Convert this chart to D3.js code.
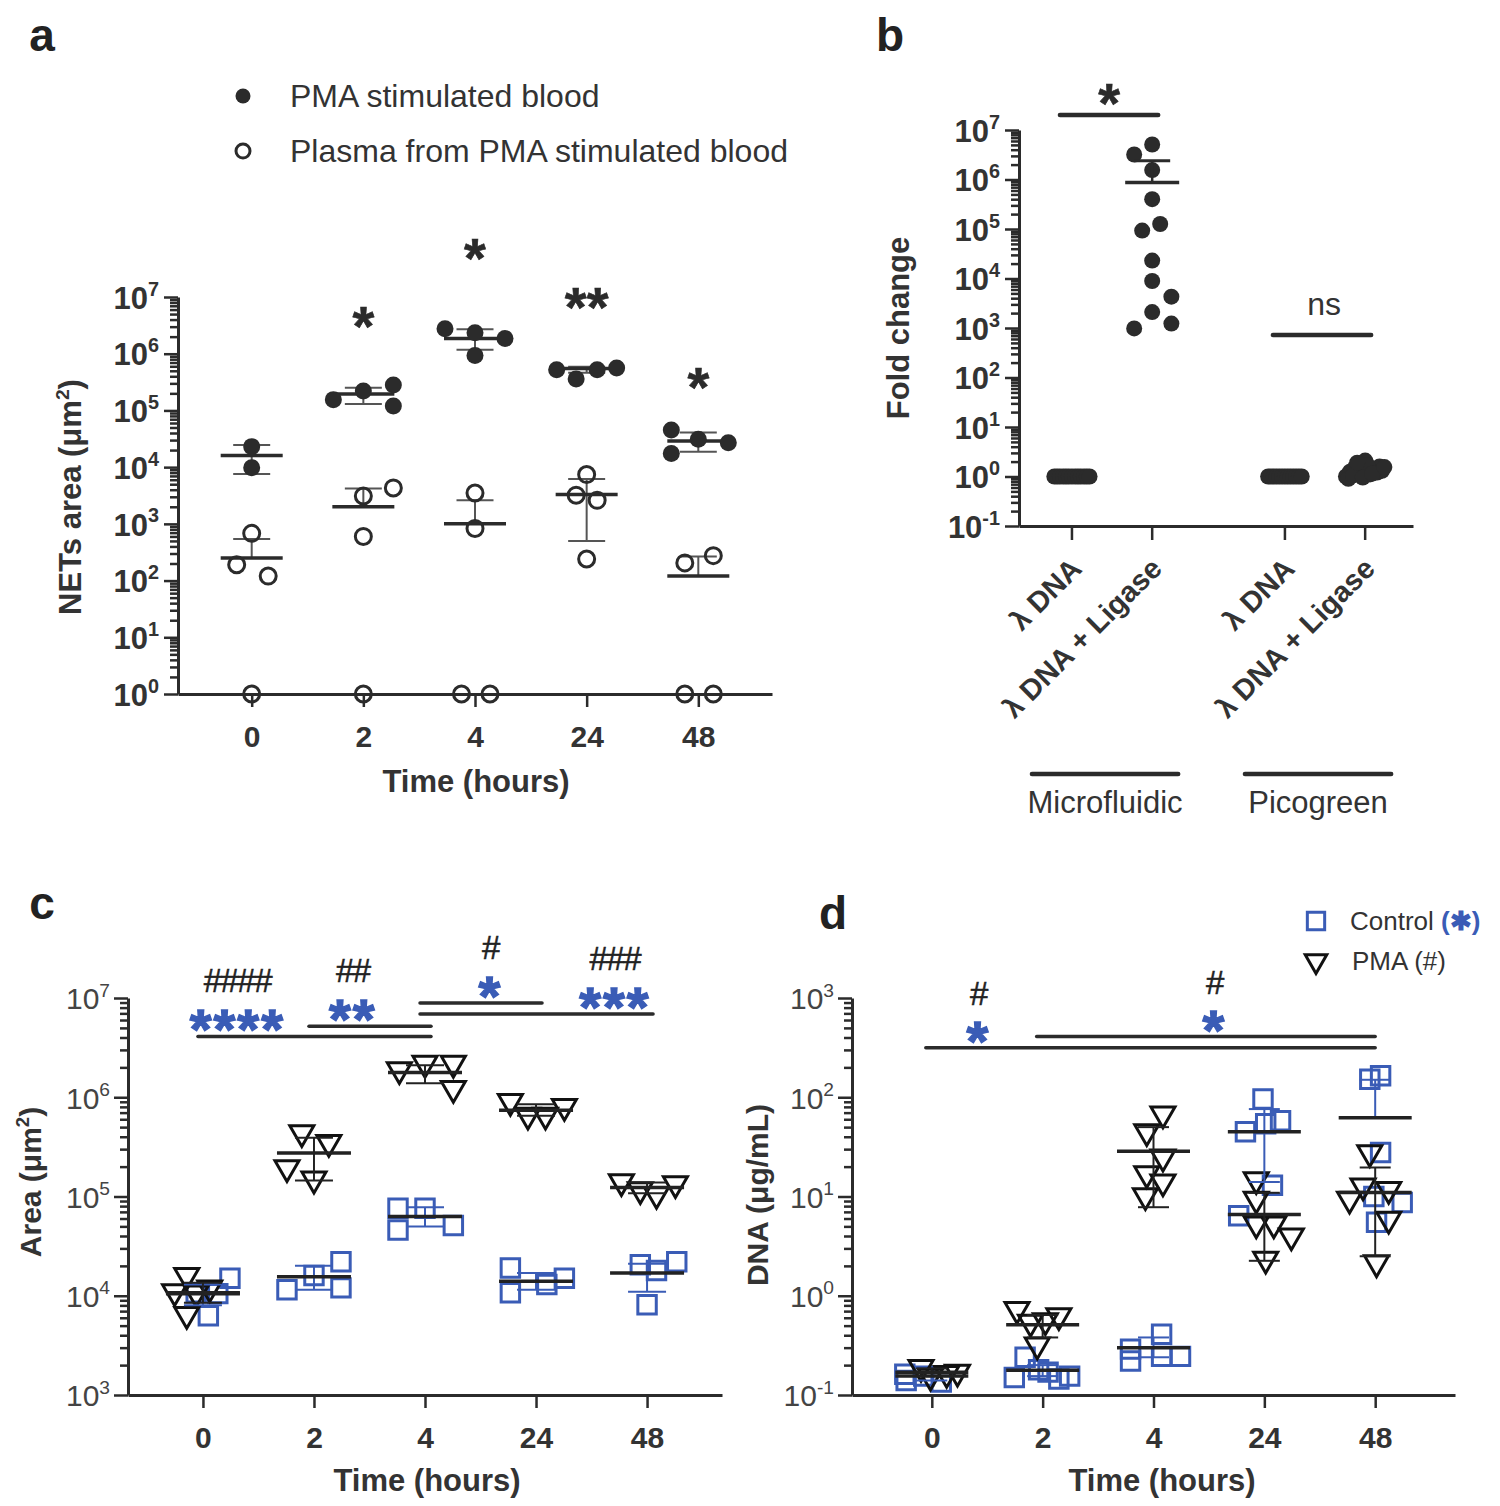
<!DOCTYPE html>
<html><head><meta charset="utf-8">
<script src="https://cdn.jsdelivr.net/npm/d3@7"></script>
<style>
body{margin:0;background:#fff}
svg{font-family:"Liberation Sans",Arial,sans-serif}
</style></head><body>
<svg id="fig" width="1500" height="1506"></svg>
<script>
// ---------------- DATA ----------------
const timeCats = ["0","2","4","24","48"];

// Panel a : NETs area (µm²)
const aPMAVals   = [[2.3e4,9.8e3],[1.55e5,2.2e5,2.8e5,1.2e5],[2.75e6,2.35e6,1.86e6,9.3e5],[5.2e5,3.6e5,5.2e5,5.6e5],[4.5e4,1.74e4,3.1e4,2.7e4]];
const aPMAJit    = [[0,0],[-1,0,1,1],[-1,0,1,0],[-1,-0.35,0.35,1],[-0.9,-0.9,0,1]];
const aPMAMean   = [1.6e4,1.95e5,1.86e6,5.5e5,2.9e4];
const aPMALow    = [7.6e3,1.3e5,1.17e6,4.6e5,1.86e4];
const aPMAHigh   = [2.45e4,2.5e5,2.7e6,5.9e5,4.1e4];
const aPlasmaVals= [[680,190,120,1],[3100,4300,600,1],[3500,830,1,1],[7400,3200,2600,240],[205,275,1,1]];
const aPlasmaJit = [[0,-0.5,0.55,0],[0,1,0,0],[0,0,-0.45,0.5],[0,-0.35,0.35,0],[-0.45,0.5,-0.45,0.5]];
const aPlasmaMean= [250,2000,1000,3300,120];
const aPlasmaLow = [null,null,null,500,null];
const aPlasmaHigh= [540,4200,2600,6200,265];
const aSigLabels = ["","*","*","**","*"];
const aSigLevel  = [null,5.5e6,8.9e7,1.2e7,4.6e5];
const aLegend    = ["PMA stimulated blood","Plasma from PMA stimulated blood"];

// Panel b : Fold change
const bGroups = ["Microfluidic","Picogreen"];
const bConds  = ["λ DNA","λ DNA + Ligase"];
const bMicroDNA     = [1,1,1,1,1,1,1,1,1,1,1,1,1];
const bMicroDNAJit  = [-2.2,-1.85,-1.5,-1.1,-0.75,-0.4,0,0.4,0.75,1.1,1.5,1.85,2.2];
const bMicroLig     = [3.2e6,5.1e6,1.55e6,4.0e5,9.3e4,1.26e5,2.3e4,8.9e3,4.3e3,2.1e3,980,1.23e3];
const bMicroLigJit  = [-2.25,0,0,0,-1.25,1,0,0,2.4,0,-2.25,2.4];
const bMicroLigMean = 8.7e5;
const bMicroLigSEM  = 2.4e6;
const bPicoDNA      = [1,1,1,1,1,1,1,1,1,1,1,1,1];
const bPicoDNAJit   = [-2.1,-1.75,-1.4,-1.05,-0.7,-0.35,0,0.35,0.7,1.05,1.4,1.75,2.1];
const bPicoLig      = [1.0,1.25,1.5,1.8,2.1,1.1,1.35,1.6,0.9,1.45,1.7,1.2,1.05,1.3,0.95,1.15,1.9,1.55];
const bPicoLigJit   = [-2.4,-1.9,-1.3,-0.6,0,0.6,1.2,1.8,-2.1,-0.9,0.3,1.5,-1.5,2.1,-0.3,0.9,-1.0,2.4];
const bSig = [{group:"Microfluidic",label:"*",level:2.0e7},{group:"Picogreen",label:"ns",level:7.2e2}];

// Panel c : Area (µm²), Control (squares) and PMA (triangles)
const cCtrlVals = [[1.5e4,1.05e4,6.3e3,1.07e4],[1.15e4,1.6e4,2.2e4,1.2e4],[7.6e4,4.6e4,7.6e4,5.1e4],[1.9e4,1.07e4,1.3e4,1.5e4],[2.05e4,1.8e4,2.2e4,8.1e3]];
const cCtrlJit  = [[1.0,0.55,0.2,-0.25],[-1,0,1,1],[-1,-1,0,1.05],[-0.95,-0.95,0.4,1.05],[-0.25,0.35,1.1,0]];
const cCtrlMean = [1.05e4,1.55e4,6.3e4,1.4e4,1.7e4];
const cCtrlLow  = [8.0e3,1.15e4,5.0e4,1.15e4,1.1e4];
const cCtrlHigh = [1.3e4,2.0e4,7.8e4,1.7e4,2.1e4];
const cPMAVals  = [[1.6e4,1.1e4,1.07e4,1.2e4,6.5e3],[4.4e5,3.5e5,1.95e5,1.5e5],[1.9e6,2.2e6,2.2e6,1.23e6],[9.1e5,6.6e5,6.6e5,8.1e5],[1.41e5,1.17e5,1.05e5,1.35e5]];
const cPMAJit   = [[-0.6,-1.05,-0.25,0.25,-0.6],[-0.45,0.55,-1.0,0],[-0.95,0,1.05,1.05],[-0.95,-0.3,0.35,1.05],[-0.95,-0.25,0.35,1.05]];
const cPMAMean  = [1.07e4,2.75e5,1.78e6,7.4e5,1.23e5];
const cPMALow   = [8.5e3,1.45e5,1.38e6,6.5e5,1.08e5];
const cPMAHigh  = [1.35e4,3.9e5,2.1e6,8.5e5,1.38e5];
const cBrackets = [{from:"0",to:"4",level:4.1e6,at:0.31,ctrl:"****",pma:"####"},
                   {from:"2",to:"4",level:5.2e6,at:1.35,ctrl:"**",pma:"##"},
                   {from:"4",to:"24",level:8.9e6,at:2.59,ctrl:"*",pma:"#"},
                   {from:"4",to:"48",level:6.9e6,at:3.71,ctrl:"***",pma:"###"}];

// Panel d : DNA (µg/mL)
const dCtrlVals = [[0.162,0.14,0.155,0.135],[0.15,0.24,0.18,0.17,0.145,0.155],[0.29,0.22,0.41,0.245,0.245],[96,58,45,54,13,6.4],[152,165,27.7,8.7,5.5,10]];
const dCtrlJit  = [[-1.0,-0.95,-0.3,0.35],[-1.05,-0.65,-0.15,0.2,0.6,1.0],[-0.85,-0.85,0.3,0.3,1.0],[-0.05,0.6,-0.7,0.05,0.3,-0.95],[-0.2,0.2,0.2,1.0,0.05,-0.05]];
const dCtrlMean = [0.155,0.178,0.30,45,62];
const dCtrlLow  = [0.14,0.155,0.24,14,null];
const dCtrlHigh = [0.17,0.20,0.38,76,150];
const dPMAVals  = [[0.19,0.155,0.165,0.17],[0.73,0.54,0.56,0.63,0.32],[68,45,25,17,14,10.2],[14.8,9.4,5.3,5.3,4.0,2.34],[27.7,9.4,12.8,11.8,5.9,2.15]];
const dPMAJit   = [[-0.4,-0.05,0.55,0.95],[-0.95,-0.45,0.1,0.6,-0.2],[0.35,-0.25,0.35,-0.25,0.35,-0.3],[-0.3,-0.3,-0.3,0.35,1.0,0.05],[-0.2,-0.95,-0.45,0.5,0.5,0.05]];
const dPMAMean  = [0.17,0.51,28.5,6.6,11];
const dPMALow   = [0.155,0.38,7.8,2.25,2.5];
const dPMAHigh  = [0.185,0.64,50,10.9,19.6];
const dBrackets = [{from:"0",to:"48",level:316,at:0.42,ctrl:"*",pma:"#"},
                   {from:"2",to:"48",level:410,at:2.55,ctrl:"*",pma:"#"}];
const dLegend = ["Control","PMA (#)"];

// ---------------- DRAWING ----------------
const INK = "#2b2b2b", TXT = "#333", BLUE = "#3a5cb6";
const svg = d3.select("#fig");

function logAxisY(g, y, x, o) {
  const [d0, d1] = y.domain();
  const e0 = Math.round(Math.log10(d0)), e1 = Math.round(Math.log10(d1));
  const majors = d3.range(e0, e1 + 1).map(e => Math.pow(10, e));
  const minors = [];
  for (let e = e0; e < e1; e++) for (let m = 2; m <= 9; m++) minors.push(m * Math.pow(10, e));
  const gm = g.append("g").attr("transform", `translate(${x},0)`)
    .call(d3.axisLeft(y).tickValues(minors).tickSize(8).tickSizeOuter(0).tickFormat(""));
  gm.select(".domain").remove();
  const gM = g.append("g").attr("transform", `translate(${x},0)`)
    .call(d3.axisLeft(y).tickValues(majors).tickSize(14).tickSizeOuter(0).tickFormat(""));
  [gm, gM].forEach(a => a.selectAll("line").attr("stroke", INK).attr("stroke-width", 2.5));
  gM.select(".domain").attr("stroke", INK).attr("stroke-width", 3);
  gM.selectAll(".tick").each(function(d) {
    const e = Math.round(Math.log10(d));
    const t = d3.select(this).append("text")
      .attr("x", -o.gap).attr("y", o.fs * 0.36).attr("text-anchor", "end")
      .attr("fill", o.color || TXT).attr("font-size", o.fs)
      .attr("font-weight", o.bold ? "bold" : "normal");
    t.append("tspan").text("10");
    t.append("tspan").attr("dy", -o.fs * 0.42).attr("font-size", o.fs * 0.64).text(e);
  });
}

function pointAxisX(g, x, y0, o) {
  const ax = g.append("g").attr("transform", `translate(0,${y0})`)
    .call(d3.axisBottom(x).tickSize(13).tickSizeOuter(0).tickFormat(""));
  ax.selectAll("line").attr("stroke", INK).attr("stroke-width", 2.5);
  ax.select(".domain").attr("stroke", INK).attr("stroke-width", 3);
  ax.selectAll(".tick").append("text").attr("y", 42 + o.fs * 0.36)
    .attr("text-anchor", "middle").attr("fill", TXT).attr("font-size", o.fs)
    .attr("font-weight", "bold").text(d => d);
}

function text(g, x, y, str, o) {
  return g.append("text").attr("x", x).attr("y", y)
    .attr("text-anchor", o.anchor || "middle").attr("fill", o.color || TXT)
    .attr("font-size", o.fs).attr("font-weight", o.bold ? "bold" : "normal")
    .text(str);
}
function yTitle(g, cx, cy, str, fs, sup) {
  const t = g.append("text").attr("transform", `translate(${cx},${cy}) rotate(-90)`)
    .attr("text-anchor", "middle").attr("dy", "0.36em").attr("fill", TXT)
    .attr("font-size", fs).attr("font-weight", "bold");
  t.append("tspan").text(str[0]);
  if (sup) {
    t.append("tspan").attr("dy", -fs * 0.38).attr("font-size", fs * 0.62).text(sup);
    t.append("tspan").attr("dy", fs * 0.38).text(str[1]);
  }
}
// asterisk centred on cy
function stars(g, cx, cy, str, fs, color) {
  return g.append("text").attr("x", cx).attr("y", cy + fs * 0.6)
    .attr("text-anchor", "middle").attr("fill", color).attr("stroke", color)
    .attr("stroke-width", color === BLUE ? 1.4 : 0.6).attr("letter-spacing", color === BLUE ? 2 : 0)
    .attr("font-size", fs).attr("font-weight", "bold").text(str);
}
function hashes(g, cx, cy, str, fs) {
  return g.append("text").attr("x", cx).attr("y", cy + fs * 0.35)
    .attr("text-anchor", "middle").attr("fill", "#222").attr("stroke", "#222").attr("stroke-width", 0.5)
    .attr("letter-spacing", -1.5)
    .attr("font-size", fs).text(str);
}

const triPath = d3.symbol(d3.symbolTriangle, 250)();
const sqPath = d3.symbol(d3.symbolSquare, 340)();

function drawMarks(g, x, y, vals, jit, unit, shape) {
  vals.forEach((arr, i) => {
    const cx = x(timeCats[i]);
    const sel = g.selectAll(null).data(arr.map((v, j) => ({v, dx: jit[i][j] * unit})));
    if (shape === "dot") sel.join("circle").attr("cx", d => cx + d.dx).attr("cy", d => y(d.v)).attr("r", 8.5).attr("fill", INK);
    if (shape === "ring") sel.join("circle").attr("cx", d => cx + d.dx).attr("cy", d => y(d.v)).attr("r", 8).attr("fill", "none").attr("stroke", INK).attr("stroke-width", 3);
    if (shape === "tri") sel.join("path").attr("d", triPath).attr("transform", d => `translate(${cx + d.dx},${y(d.v)}) rotate(180)`).attr("fill", "none").attr("stroke", "#111").attr("stroke-width", 3).attr("stroke-linejoin", "miter");
    if (shape === "sq") sel.join("path").attr("d", sqPath).attr("transform", d => `translate(${cx + d.dx},${y(d.v)})`).attr("fill", "none").attr("stroke", BLUE).attr("stroke-width", 3);
  });
}
function drawMeanErr(g, x, y, mean, low, high, o) {
  mean.forEach((m, i) => {
    const cx = x(timeCats[i]);
    const lo = low[i] == null ? m : low[i], hi = high[i] == null ? m : high[i];
    g.append("line").attr("x1", cx).attr("x2", cx).attr("y1", y(lo)).attr("y2", y(hi))
      .attr("stroke", o.errColor).attr("stroke-width", 2);
    [low[i], high[i]].forEach(v => { if (v != null)
      g.append("line").attr("x1", cx - o.capW / 2).attr("x2", cx + o.capW / 2).attr("y1", y(v)).attr("y2", y(v))
        .attr("stroke", o.errColor).attr("stroke-width", 2); });
    g.append("line").attr("x1", cx - o.meanW / 2).attr("x2", cx + o.meanW / 2).attr("y1", y(m)).attr("y2", y(m))
      .attr("stroke", o.meanColor).attr("stroke-width", 3.5);
  });
}
function hline(g, x1, x2, yv, w) {
  g.append("line").attr("x1", x1).attr("x2", x2).attr("y1", yv).attr("y2", yv)
    .attr("stroke", INK).attr("stroke-width", w || 3.5).attr("stroke-linecap", "round");
}

// ---------- Panel a ----------
{
  const g = svg.append("g");
  const x = d3.scalePoint().domain(timeCats).range([178, 772]).padding(0.66);
  const y = d3.scaleLog().domain([1, 1e7]).range([694, 297]);
  text(g, 42, 51, "a", {fs: 46, bold: true, color: "#222"});
  // legend
  g.append("circle").attr("cx", 243).attr("cy", 96).attr("r", 7.5).attr("fill", INK);
  g.append("circle").attr("cx", 243).attr("cy", 151).attr("r", 7).attr("fill", "none").attr("stroke", INK).attr("stroke-width", 3);
  text(g, 290, 107, aLegend[0], {fs: 32, anchor: "start"});
  text(g, 290, 162, aLegend[1], {fs: 32, anchor: "start"});
  logAxisY(g, y, 178, {fs: 31, bold: true, gap: 19});
  pointAxisX(g, x, 694, {fs: 30});
  yTitle(g, 70, 497, ["NETs area (μm", ")"], 31, "2");
  text(g, 476, 792, "Time (hours)", {fs: 31, bold: true});
  drawMeanErr(g, x, y, aPMAMean, aPMALow, aPMAHigh, {capW: 37, meanW: 62, errColor: "#555", meanColor: INK});
  drawMeanErr(g, x, y, aPlasmaMean, aPlasmaLow, aPlasmaHigh, {capW: 37, meanW: 62, errColor: "#555", meanColor: INK});
  drawMarks(g, x, y, aPMAVals, aPMAJit, 30, "dot");
  drawMarks(g, x, y, aPlasmaVals, aPlasmaJit, 30, "ring");
  aSigLabels.forEach((s, i) => { if (s) stars(g, x(timeCats[i]), y(aSigLevel[i]), s, 56, INK); });
}

// ---------- Panel b ----------
{
  const g = svg.append("g");
  const y = d3.scaleLog().domain([0.1, 1e7]).range([526, 130]);
  const gx = d3.scaleBand().domain(bGroups).range([1019, 1413]).paddingInner(0.45).paddingOuter(0.15).align(0.54);
  const ix = d3.scalePoint().domain(bConds).range([0, gx.bandwidth()]).padding(0.23);
  const px = (grp, c) => gx(grp) + ix(c);
  text(g, 890, 51, "b", {fs: 46, bold: true, color: "#222"});
  logAxisY(g, y, 1019, {fs: 31, bold: true, gap: 19});
  const xl = g.append("g").attr("transform", "translate(0,526)")
    .call(d3.axisBottom(d3.scaleLinear().range([1019, 1413])).tickValues([]).tickSizeOuter(0));
  xl.select(".domain").attr("stroke", INK).attr("stroke-width", 3);
  bGroups.forEach(grp => {
    bConds.forEach(c => {
      const cx = px(grp, c);
      g.append("line").attr("x1", cx).attr("x2", cx).attr("y1", 526).attr("y2", 540).attr("stroke", INK).attr("stroke-width", 2.5);
      g.append("text").attr("transform", `translate(${cx + 4},563) rotate(-45)`)
        .attr("text-anchor", "end").attr("dy", "0.36em").attr("fill", TXT)
        .attr("font-size", 29).attr("font-weight", "bold").text(c);
    });
    const x1 = px(grp, bConds[0]) - 40, x2 = px(grp, bConds[1]) + 26;
    hline(g, x1, x2, 774, 4.5);
    text(g, (x1 + x2) / 2, 813, grp, {fs: 31});
  });
  yTitle(g, 898, 328, ["Fold change"], 31);
  const dots = (vals, jit, grp, c) => g.selectAll(null).data(vals.map((v, j) => ({v, dx: jit[j] * 8})))
    .join("circle").attr("cx", d => px(grp, c) + d.dx).attr("cy", d => y(d.v)).attr("r", 8).attr("fill", INK);
  dots(bMicroDNA, bMicroDNAJit, bGroups[0], bConds[0]);
  dots(bMicroLig, bMicroLigJit, bGroups[0], bConds[1]);
  dots(bPicoDNA, bPicoDNAJit, bGroups[1], bConds[0]);
  dots(bPicoLig, bPicoLigJit, bGroups[1], bConds[1]);
  const lx = px(bGroups[0], bConds[1]);
  g.append("line").attr("x1", lx).attr("x2", lx).attr("y1", y(bMicroLigMean)).attr("y2", y(bMicroLigSEM)).attr("stroke", INK).attr("stroke-width", 2.5);
  g.append("line").attr("x1", lx - 18).attr("x2", lx + 18).attr("y1", y(bMicroLigSEM)).attr("y2", y(bMicroLigSEM)).attr("stroke", INK).attr("stroke-width", 3);
  g.append("line").attr("x1", lx - 27).attr("x2", lx + 27).attr("y1", y(bMicroLigMean)).attr("y2", y(bMicroLigMean)).attr("stroke", INK).attr("stroke-width", 3.5);
  bSig.forEach(s => {
    const x1 = px(s.group, bConds[0]) - 12, x2 = px(s.group, bConds[1]) + 6;
    hline(g, x1, x2, y(s.level), 4.5);
    if (s.label === "ns") text(g, (x1 + x2) / 2 + 2, y(s.level) - 20, s.label, {fs: 32});
    else stars(g, (x1 + x2) / 2, y(s.level) - 27, s.label, 56, INK);
  });
}

// ---------- Panel c ----------
{
  const g = svg.append("g");
  const x = d3.scalePoint().domain(timeCats).range([128, 722]).padding(0.675);
  const y = d3.scaleLog().domain([1e3, 1e7]).range([1395, 998]);
  text(g, 42, 919, "c", {fs: 46, bold: true, color: "#222"});
  logAxisY(g, y, 128, {fs: 30, bold: false, gap: 18, color: "#444"});
  pointAxisX(g, x, 1395, {fs: 30});
  yTitle(g, 30, 1182, ["Area (μm", ")"], 30, "2");
  text(g, 427, 1491, "Time (hours)", {fs: 31, bold: true});
  drawMarks(g, x, y, cCtrlVals, cCtrlJit, 27, "sq");
  drawMarks(g, x, y, cPMAVals, cPMAJit, 27, "tri");
  drawMeanErr(g, x, y, cCtrlMean, cCtrlLow, cCtrlHigh, {capW: 38, meanW: 74, errColor: BLUE, meanColor: "#222"});
  drawMeanErr(g, x, y, cPMAMean, cPMALow, cPMAHigh, {capW: 38, meanW: 74, errColor: "#222", meanColor: "#222"});
  const step = x.step();
  cBrackets.forEach(b => {
    const yy = y(b.level);
    hline(g, x(b.from) - 5, x(b.to) + 6, yy, 3.5);
    const cx = x(timeCats[0]) + b.at * step;
    stars(g, cx, yy - 22, b.ctrl, 56, BLUE);
    hashes(g, cx, yy - 56, b.pma, 33);
  });
}

// ---------- Panel d ----------
{
  const g = svg.append("g");
  const x = d3.scalePoint().domain(timeCats).range([852, 1455]).padding(0.72);
  const y = d3.scaleLog().domain([0.1, 1e3]).range([1395, 998]);
  text(g, 833, 929, "d", {fs: 46, bold: true, color: "#222"});
  logAxisY(g, y, 852, {fs: 30, bold: false, gap: 18, color: "#444"});
  pointAxisX(g, x, 1395, {fs: 30});
  yTitle(g, 757, 1195, ["DNA (μg/mL)"], 30);
  text(g, 1162, 1491, "Time (hours)", {fs: 31, bold: true});
  drawMarks(g, x, y, dCtrlVals, dCtrlJit, 27, "sq");
  drawMarks(g, x, y, dPMAVals, dPMAJit, 27, "tri");
  drawMeanErr(g, x, y, dCtrlMean, dCtrlLow, dCtrlHigh, {capW: 31, meanW: 73, errColor: BLUE, meanColor: "#222"});
  drawMeanErr(g, x, y, dPMAMean, dPMALow, dPMAHigh, {capW: 31, meanW: 73, errColor: "#222", meanColor: "#222"});
  const step = x.step();
  dBrackets.forEach(b => {
    const yy = y(b.level);
    hline(g, x(b.from) - 6, x(b.to), yy, 3.5);
    const cx = x(timeCats[0]) + b.at * step;
    stars(g, cx, yy - 21, b.ctrl, 56, BLUE);
    hashes(g, cx, yy - 54, b.pma, 33);
  });
  // legend
  g.append("path").attr("d", d3.symbol(d3.symbolSquare, 300)()).attr("transform", "translate(1316,921)")
    .attr("fill", "none").attr("stroke", BLUE).attr("stroke-width", 3);
  g.append("path").attr("d", d3.symbol(d3.symbolTriangle, 200)()).attr("transform", "translate(1316,961) rotate(180)")
    .attr("fill", "none").attr("stroke", "#111").attr("stroke-width", 3);
  const lt = text(g, 1350, 930, dLegend[0], {fs: 26, anchor: "start"});
  lt.append("tspan").attr("fill", BLUE).attr("font-weight", "bold").text(" (✱)");
  text(g, 1352, 970, dLegend[1], {fs: 26, anchor: "start"});
}
</script></body></html>
